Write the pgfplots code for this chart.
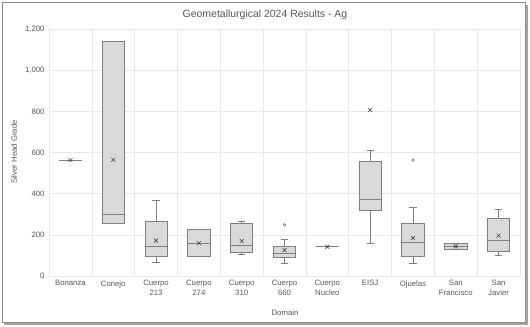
\documentclass[border=0pt]{standalone}
\usepackage{pgfplots}
\pgfplotsset{compat=1.18}
\usepgfplotslibrary{statistics}
\usepackage{fontspec}
\setmainfont{Liberation Sans}
\definecolor{boxfill}{HTML}{D9D9D9}
\definecolor{boxline}{HTML}{7F7F7F}
\definecolor{gridc}{HTML}{E8E8E8}
\definecolor{txt}{HTML}{595959}
\definecolor{frame}{HTML}{8C8C8C}
\begin{document}
\begin{tikzpicture}[x=1bp,y=1bp]
\useasboundingbox (0,0) rectangle (530,326);
\fill[frame!80] (4,1.5) rectangle (527.5,321);
\draw[fill=white, draw=frame, line width=1bp] (2.5,3.5) rectangle (525,323);
\begin{axis}[
  at={(49bp,50bp)}, anchor=south west,
  scale only axis, width=471bp, height=247bp,
  xmin=0.5, xmax=11.5, ymin=0, ymax=1200,
  axis line style={draw=none},
  tick style={draw=none},
  xtick={1,...,11},
  xticklabels={Bonanza, Conejo, {Cuerpo\\213}, {Cuerpo\\274}, {Cuerpo\\310}, {Cuerpo\\660}, {Cuerpo\\Nucleo}, EISJ, Ojuelas, {San\\Francisco}, {San\\Javier}},
  xticklabel style={align=center, font=\fontsize{7.8}{9.5}\selectfont, text=txt, yshift=-1bp},
  minor xtick={0.5,1.5,...,11.5},
  xminorgrids=true, xmajorgrids=false,
  ytick={0,200,...,1200},
  ymajorgrids=true,
  grid style={gridc, line width=0.6bp},
  minor grid style={gridc, line width=0.6bp},
  yticklabel style={font=\fontsize{7.8}{9.5}\selectfont, text=txt, xshift=-1bp},
  /pgf/number format/assume math mode=true,
  /pgf/number format/1000 sep={,},
  clip=false,
  boxplot/draw direction=y,
  boxplot/box extend=0.52,
  boxplot/whisker extend=0.17,
]
\pgfplotsset{mybox/.style={draw=boxline, fill=boxfill, line width=0.75bp, solid, mark=o, mark size=1.3bp, mark options={draw=boxline, fill=white, line width=0.6bp}}}
\addplot[mybox, boxplot prepared={draw position=1, lower whisker=563, lower quartile=563, median=563, upper quartile=563, upper whisker=563}] coordinates {};
\addplot[mybox, boxplot prepared={draw position=2, lower whisker=257, lower quartile=257, median=300, upper quartile=1138, upper whisker=1138}] coordinates {};
\addplot[mybox, boxplot prepared={draw position=3, lower whisker=66, lower quartile=94, median=142, upper quartile=264, upper whisker=369}] coordinates {};
\addplot[mybox, boxplot prepared={draw position=4, lower whisker=94, lower quartile=94, median=160, upper quartile=227, upper whisker=227}] coordinates {};
\addplot[mybox, boxplot prepared={draw position=5, lower whisker=105, lower quartile=115, median=151, upper quartile=257, upper whisker=264}] coordinates {};
\addplot[mybox, boxplot prepared={draw position=6, lower whisker=62, lower quartile=92, median=112, upper quartile=144, upper whisker=180}] coordinates {(0,248)};
\addplot[mybox, boxplot prepared={draw position=7, lower whisker=142, lower quartile=142, median=142, upper quartile=142, upper whisker=142}] coordinates {};
\addplot[mybox, boxplot prepared={draw position=8, lower whisker=160, lower quartile=321, median=373, upper quartile=555, upper whisker=609}] coordinates {};
\addplot[mybox, boxplot prepared={draw position=9, lower whisker=63, lower quartile=94, median=164, upper quartile=257, upper whisker=332}] coordinates {(0,563)};
\addplot[mybox, boxplot prepared={draw position=10, lower whisker=128, lower quartile=128, median=142, upper quartile=157, upper whisker=157}] coordinates {};
\addplot[mybox, boxplot prepared={draw position=11, lower whisker=102, lower quartile=118, median=173, upper quartile=282, upper whisker=324}] coordinates {};
% means
\addplot[only marks, mark=x, mark size=2.8bp, mark options={draw=black!75, line width=0.6bp}] coordinates {
(1,563) (2,565) (3,172) (4,160) (5,170) (6,126) (7,142) (8,806) (9,185) (10,144) (11,196)};
\end{axis}
\node[text=txt, font=\fontsize{10.5}{12}\selectfont] at (265,311) {Geometallurgical 2024 Results - Ag};
\node[text=txt, font=\fontsize{7.8}{9.5}\selectfont, rotate=90] at (14,174) {Silver Head Grade};
\node[text=txt, font=\fontsize{7.8}{9.5}\selectfont] at (285,13) {Domain};
\end{tikzpicture}
\end{document}
